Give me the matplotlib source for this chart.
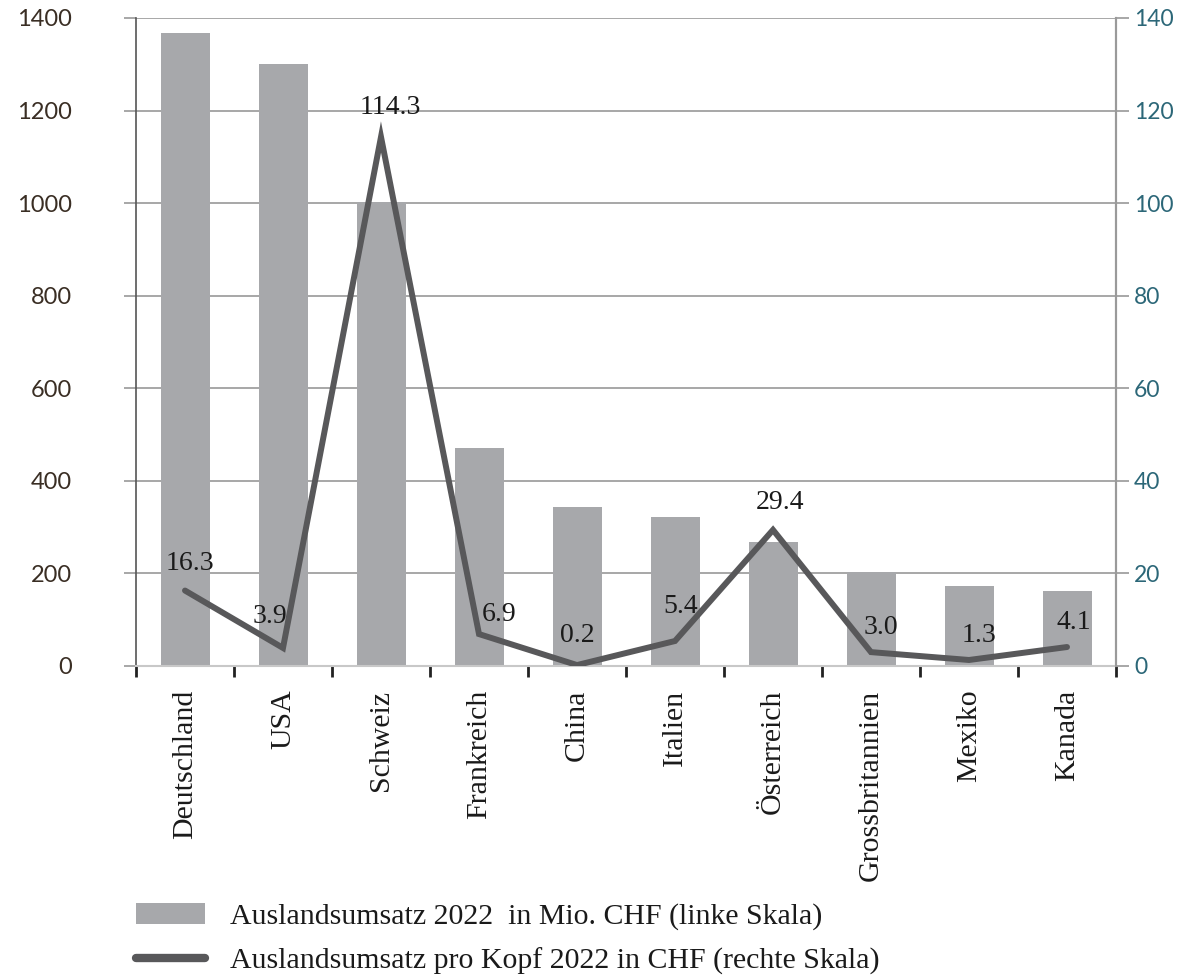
import matplotlib
matplotlib.use("Agg")
import matplotlib.pyplot as plt
from matplotlib.patches import Patch
from matplotlib.lines import Line2D
import numpy as np

laender = ["Deutschland", "USA", "Schweiz", "Frankreich", "China", "Italien",
           "Österreich", "Grossbritannien", "Mexiko", "Kanada"]
umsatz_mio = [1367, 1300, 1002, 470, 344, 321, 267, 204, 173, 162]
umsatz_pro_kopf = [16.3, 3.9, 114.3, 6.9, 0.2, 5.4, 29.4, 3.0, 1.3, 4.1]
links_ticks = [0, 200, 400, 600, 800, 1000, 1200, 1400]
rechts_ticks = [0, 20, 40, 60, 80, 100, 120, 140]

# label offsets in pixels (dx, dy) so the numbers sit clear of the line
label_offsets = [(5, 27), (-13, 31), (9, 29), (20, 20), (0, 30),
                 (6, 35), (7, 27), (10, 25), (10, 24), (7, 25)]

BAR = "#a7a8ab"
LINE = "#58585a"
GRID = "#a0a0a0"
SERIF = ["Liberation Serif", "DejaVu Serif"]
SANS = ["Lato", "DejaVu Sans"]

fig = plt.figure(figsize=(11.83, 9.76), dpi=100)
ax = fig.add_axes([136 / 1183, 1 - 666 / 976, 980 / 1183, 648 / 976])
x = np.arange(len(laender))

ax.bar(x, umsatz_mio, width=0.5, color=BAR, zorder=2)
ax.set_xlim(-0.5, len(laender) - 0.5)
ax.set_ylim(0, 1400)
ax.set_yticks(links_ticks)
ax.set_yticklabels([str(v) for v in links_ticks], family=SANS, fontsize=17, color="#3a2e24")
ax.yaxis.grid(True, color=GRID, lw=1.3, zorder=0)
ax.set_axisbelow(True)
ax.tick_params(axis="y", length=9, width=1.3, color=GRID, pad=37)

ax.set_xticks(x)
ax.set_xticklabels(laender, rotation=90, family=SERIF, fontsize=21.5, color="#1a1a1a")
ax.set_xticks(np.arange(-0.5, len(laender)), minor=True)
ax.tick_params(axis="x", which="major", length=0, pad=17)
ax.tick_params(axis="x", which="minor", length=8, width=2, color="#222222")

ax.spines["top"].set_visible(False)
ax.spines["left"].set_color("#555555")
ax.spines["left"].set_linewidth(1.2)
ax.spines["bottom"].set_color("#c8c8c8")
ax.spines["bottom"].set_linewidth(1.5)
ax.spines["right"].set_color("#9a9a9a")
ax.spines["right"].set_linewidth(1.5)

ax2 = ax.twinx()
ax2.set_ylim(0, 140)
ax2.set_yticks(rechts_ticks)
ax2.set_yticklabels([str(v) for v in rechts_ticks], family=SANS, fontsize=16.5, color="#2c6778")
ax2.tick_params(axis="y", length=9, width=1.3, color=GRID, pad=4)
for side in ["top", "left", "bottom"]:
    ax2.spines[side].set_visible(False)
ax2.spines["right"].set_color("#9a9a9a")
ax2.spines["right"].set_linewidth(1.5)

ax2.plot(x, umsatz_pro_kopf, color=LINE, lw=4.3, solid_joinstyle="miter",
         solid_capstyle="round", zorder=3)
for xi, v, (dx, dy) in zip(x, umsatz_pro_kopf, label_offsets):
    ax2.annotate(f"{v:.1f}", (xi, v), xytext=(dx * 0.72, dy * 0.72),
                 textcoords="offset points", ha="center", va="center",
                 family=SERIF, fontsize=20, color="#1a1a1a", zorder=4)

handles = [Patch(facecolor=BAR, edgecolor="none"),
           Line2D([0], [0], color=LINE, lw=6, solid_capstyle="round")]
labels = ["Auslandsumsatz 2022  in Mio. CHF (linke Skala)",
          "Auslandsumsatz pro Kopf 2022 in CHF (rechte Skala)"]
fig.legend(handles, labels, loc="upper left", bbox_to_anchor=(115 / 1183, 1 - 882 / 976),
           frameon=False, prop={"family": SERIF, "size": 21.5}, handlelength=2.3,
           handleheight=0.7, handletextpad=0.85, labelspacing=0.58, labelcolor="#1a1a1a",
           borderpad=0.2)

fig.savefig("out.png", dpi=100)
